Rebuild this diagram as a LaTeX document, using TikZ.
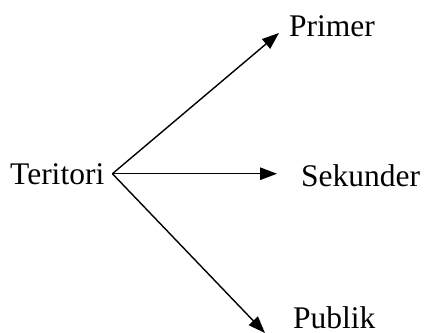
\documentclass[tikz,border=0pt]{standalone}
\usepackage{fontspec}
\setmainfont{Liberation Serif}
\usetikzlibrary{arrows.meta}

\begin{document}
\begin{tikzpicture}[x=1pt,y=1pt,
        lbl/.style={inner sep=0pt,anchor=base west,
                    font=\fontsize{31.5}{31.5}\selectfont},
        arr/.style={-{Triangle[length=17pt,width=12.5pt]},line width=1.4pt}]
      \useasboundingbox (0,0) rectangle (425,-332);
      \node[lbl,inner xsep=8pt] (ter) at (2,-184)   {Teritori};
      \node[lbl]                (pri) at (289,-36)  {Primer};
      \node[lbl]                (sek) at (301,-186) {Sekunder};
      \node[lbl]                (pub) at (293,-328) {Publik};
      \draw[arr] (ter.east) -- ([xshift=-10pt,yshift=3pt]pri.base west);
      \draw[arr] (ter.east) -- ([xshift=-24pt]sek.west |- ter.east);
      \draw[arr] (ter.east) -- ([xshift=-28pt,yshift=-5pt]pub.base west);
    \end{tikzpicture}
\end{document}
